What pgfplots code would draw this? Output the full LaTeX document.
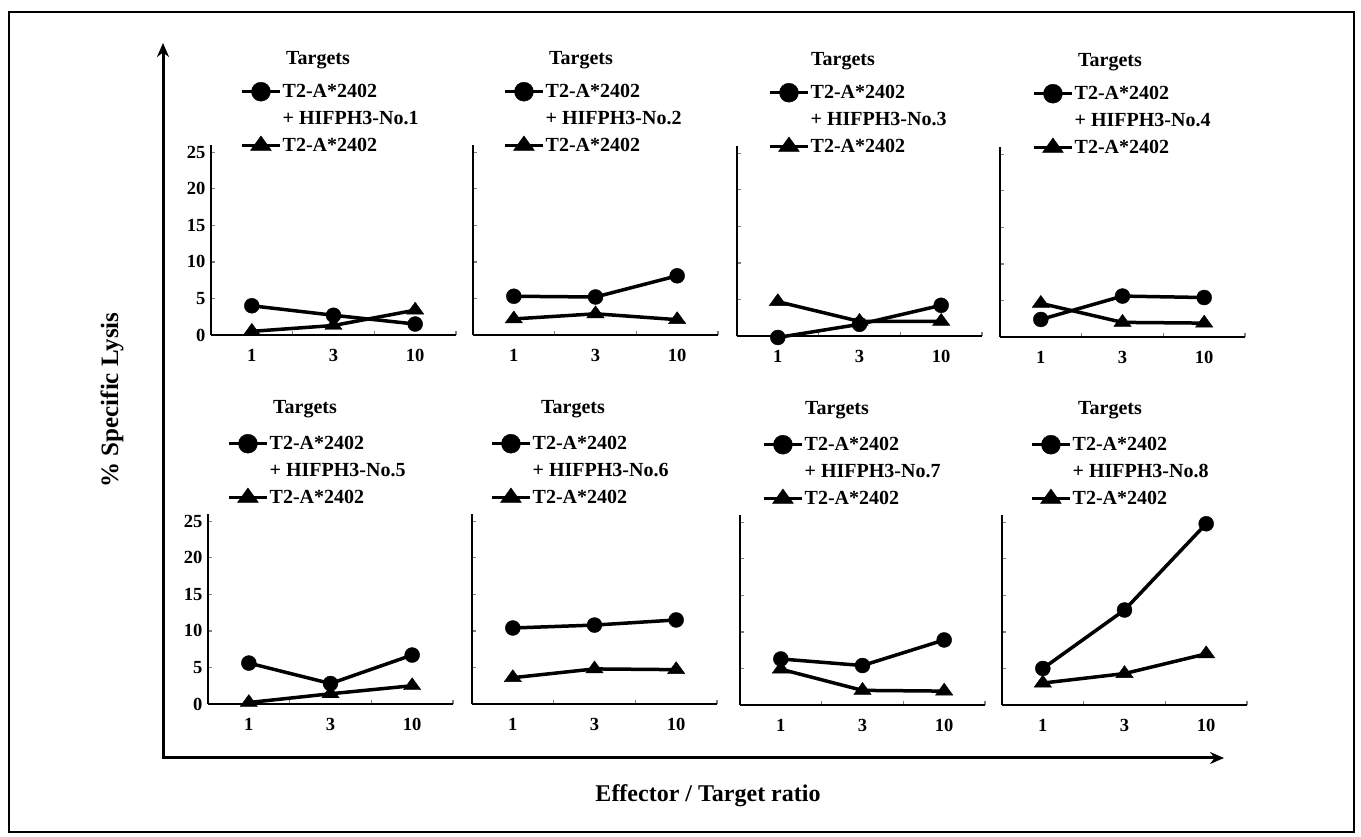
\documentclass[border=0pt]{standalone}
\usepackage{fontspec}
\setmainfont{Liberation Serif}
\usepackage{pgfplots}
\pgfplotsset{compat=1.18}
\usetikzlibrary{arrows.meta}

\pgfplotsset{
  panel/.style={
    scale only axis, width=245pt, height=190pt,
    anchor=south west,
    xmin=-0.5, xmax=2.5, ymin=0, ymax=26,
    axis x line*=bottom, axis y line*=left,
    axis line style={line width=1.6pt, -},
    xtick={0,1,2},
    xticklabels={1,3,10},
    minor xtick={0.5,1.5,2.5},
    major x tick style={draw=none},
    minor x tick style={line width=1.2pt},
    ytick={0,5,10,15,20,25},
    yticklabels={0,5,10,15,20,25},
    y tick style={line width=1.2pt},
    tick align=inside,
    major tick length=4pt, minor tick length=4pt,
    ticklabel style={font=\fontsize{18.5}{20}\selectfont\bfseries},
    xticklabel style={yshift=-11pt},
    yticklabel style={xshift=-2pt},
    clip=false,
    legend cell align=left,
    legend style={draw=none, fill=none, inner sep=0pt, at={(axis description cs:0,1)}, anchor=north west,
       font=\fontsize{20}{22}\selectfont\bfseries, row sep=9pt,
       nodes={inner xsep=1pt, inner ysep=1pt},
       /tikz/every even column/.append style={column sep=0pt}},
    title style={at={(axis description cs:0,1)}, anchor=center, font=\fontsize{20}{22}\selectfont\bfseries},
    title={Targets},
  },
  noylab/.style={yticklabels={\relax,\relax,\relax,\relax,\relax,\relax}},
  circ/.style={black, line width=3.5pt, mark=*, mark size=7.5pt, mark options={solid, line width=0.4pt},
    legend image code/.code={\draw[mark repeat=2,mark phase=2,##1,mark size=9.5pt] plot coordinates {(0pt,0pt)(19pt,0pt)(38pt,0pt)};}},
  tri/.style={black, line width=3.5pt, mark=triangle*, mark size=10pt, mark options={solid, line width=0.4pt, yscale=0.8},
    legend image code/.code={\draw[mark repeat=2,mark phase=2,##1,mark size=12pt] plot coordinates {(0pt,0pt)(19pt,0pt)(38pt,0pt)};}},
}

\begin{document}
\begin{tikzpicture}
\useasboundingbox (0pt,0pt) rectangle (1361pt,836pt);
\draw[line width=1.5pt] (9pt,4pt) rectangle (1354pt,824pt);
\draw[line width=3pt, line join=miter, {Stealth[length=14pt,width=12pt]}-{Stealth[length=14pt,width=12pt]}] (163pt,793pt) -- (163pt,78pt) -- (1224pt,78pt);
\node[rotate=90, font=\fontsize{25}{27}\selectfont\bfseries] at (112pt,436pt) {\% Specific Lysis};
\node[font=\fontsize{24}{26}\selectfont\bfseries] at (708pt,40pt) {Effector / Target ratio};

% ---------- top row ----------
\begin{axis}[panel, at={(211pt,501pt)}, legend style={xshift=29pt, yshift=63pt}, title style={xshift=107pt, yshift=79pt}]
\addplot[circ] coordinates {(0,4.0) (1,2.7) (2,1.5)};
\addlegendentry{T2-A*2402}
\addlegendimage{empty legend}
\addlegendentry{+ HIFPH3-No.1}
\addplot[tri] coordinates {(0,0.5) (1,1.3) (2,3.4)};
\addlegendentry{T2-A*2402}
\end{axis}

\begin{axis}[panel, noylab, at={(473pt,501pt)}, legend style={xshift=30pt, yshift=63pt}, title style={xshift=108pt, yshift=79pt}]
\addplot[circ] coordinates {(0,5.3) (1,5.2) (2,8.1)};
\addlegendentry{T2-A*2402}
\addlegendimage{empty legend}
\addlegendentry{+ HIFPH3-No.2}
\addplot[tri] coordinates {(0,2.2) (1,2.9) (2,2.1)};
\addlegendentry{T2-A*2402}
\end{axis}

\begin{axis}[panel, noylab, at={(737pt,500pt)}, legend style={xshift=31pt, yshift=63pt}, title style={xshift=106pt, yshift=79pt}]
\addplot[circ] coordinates {(0,-0.2) (1,1.6) (2,4.2)};
\addlegendentry{T2-A*2402}
\addlegendimage{empty legend}
\addlegendentry{+ HIFPH3-No.3}
\addplot[tri] coordinates {(0,4.7) (1,2.0) (2,2.0)};
\addlegendentry{T2-A*2402}
\end{axis}

\begin{axis}[panel, noylab, at={(1000pt,499pt)}, legend style={xshift=32pt, yshift=63pt}, title style={xshift=110pt, yshift=79pt}]
\addplot[circ] coordinates {(0,2.4) (1,5.6) (2,5.4)};
\addlegendentry{T2-A*2402}
\addlegendimage{empty legend}
\addlegendentry{+ HIFPH3-No.4}
\addplot[tri] coordinates {(0,4.6) (1,2.0) (2,1.9)};
\addlegendentry{T2-A*2402}
\end{axis}

% ---------- bottom row ----------
\begin{axis}[panel, at={(208pt,132pt)}, legend style={xshift=19pt, yshift=80pt}, title style={xshift=97pt, yshift=99pt}]
\addplot[circ] coordinates {(0,5.6) (1,2.8) (2,6.7)};
\addlegendentry{T2-A*2402}
\addlegendimage{empty legend}
\addlegendentry{+ HIFPH3-No.5}
\addplot[tri] coordinates {(0,0.2) (1,1.4) (2,2.5)};
\addlegendentry{T2-A*2402}
\end{axis}

\begin{axis}[panel, noylab, at={(472pt,132pt)}, legend style={xshift=18pt, yshift=80pt}, title style={xshift=101pt, yshift=99pt}]
\addplot[circ] coordinates {(0,10.4) (1,10.8) (2,11.5)};
\addlegendentry{T2-A*2402}
\addlegendimage{empty legend}
\addlegendentry{+ HIFPH3-No.6}
\addplot[tri] coordinates {(0,3.6) (1,4.8) (2,4.7)};
\addlegendentry{T2-A*2402}
\end{axis}

\begin{axis}[panel, noylab, at={(740pt,131pt)}, legend style={xshift=22pt, yshift=80pt}, title style={xshift=97pt, yshift=99pt}]
\addplot[circ] coordinates {(0,6.3) (1,5.4) (2,8.9)};
\addlegendentry{T2-A*2402}
\addlegendimage{empty legend}
\addlegendentry{+ HIFPH3-No.7}
\addplot[tri] coordinates {(0,4.9) (1,2.0) (2,1.9)};
\addlegendentry{T2-A*2402}
\end{axis}

\begin{axis}[panel, noylab, at={(1002pt,131pt)}, legend style={xshift=28pt, yshift=80pt}, title style={xshift=108pt, yshift=99pt}]
\addplot[circ] coordinates {(0,5.0) (1,13.0) (2,24.8)};
\addlegendentry{T2-A*2402}
\addlegendimage{empty legend}
\addlegendentry{+ HIFPH3-No.8}
\addplot[tri] coordinates {(0,3.0) (1,4.3) (2,7.0)};
\addlegendentry{T2-A*2402}
\end{axis}
\end{tikzpicture}
\end{document}
